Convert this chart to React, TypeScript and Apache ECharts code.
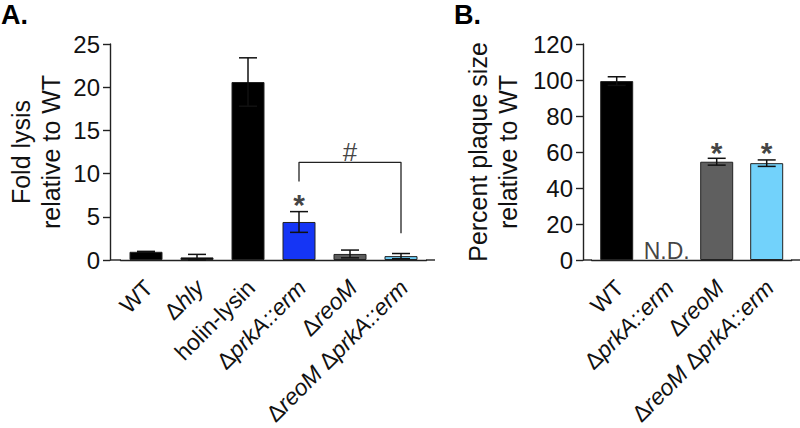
import React, { useEffect, useRef } from "react";
import * as echarts from "echarts";

// ---- Panel A data ----
const categoriesA = ["WT", "Δhly", "holin-lysin", "ΔprkA::erm", "ΔreoM", "ΔreoM ΔprkA::erm"];
const valuesA = [0.95, 0.3, 20.6, 4.4, 0.7, 0.45];
const errorsA = [0.05, 0.35, 2.8, 1.2, 0.45, 0.3];
const colorsA = ["#000000", "#000000", "#000000", "#1535f5", "#5c5c5c", "#6fcff8"];
const ticksA = { min: 0, max: 25, interval: 5 };
const bracketA = [
  [3, 9.1],
  [3, 11.3],
  [5, 11.3],
  [5, 3.1],
];
const starsA = [[3, 6.4]];
const hashA = [[4, 12.5]];

// ---- Panel B data ----
const categoriesB = ["WT", "ΔprkA::erm", "ΔreoM", "ΔreoM ΔprkA::erm"];
const valuesB: (number | null)[] = [99.4, null, 54.6, 53.8];
const errorsB: (number | null)[] = [2.4, null, 1.9, 1.8];
const colorsB = ["#000000", "#000000", "#5f5f5f", "#72d2fb"];
const ticksB = { min: 0, max: 120, interval: 20 };
const starsB = [
  [2, 60],
  [3, 60],
];
const ndB = [[1, 4.8]];

const FONT = "Liberation Sans, Arial, sans-serif";
const INK = "#111111";

function catFormatter(v: string) {
  return v.replace(/Δ(\S+)/g, "Δ{i|$1}");
}

function errorSeries(xi: number, yi: number, vals: (number | null)[], errs: (number | null)[]) {
  return {
    type: "custom",
    xAxisIndex: xi,
    yAxisIndex: yi,
    z: 5,
    data: vals
      .map((v, i) => (v == null ? null : [i, v, errs[i] ?? 0]))
      .filter((d) => d !== null),
    renderItem: (params: any, api: any) => {
      const x = api.value(0);
      const v = api.value(1);
      const e = api.value(2);
      const top = api.coord([x, v + e]);
      const bot = api.coord([x, Math.max(0, v - e)]);
      const half = 9;
      const style = { stroke: "#111", lineWidth: 1.5 };
      return {
        type: "group",
        children: [
          { type: "line", shape: { x1: top[0], y1: top[1], x2: bot[0], y2: bot[1] }, style },
          { type: "line", shape: { x1: top[0] - half, y1: top[1], x2: top[0] + half, y2: top[1] }, style },
          { type: "line", shape: { x1: bot[0] - half, y1: bot[1], x2: bot[0] + half, y2: bot[1] }, style },
        ],
      };
    },
  };
}

function textSeries(xi: number, yi: number, data: number[][], text: string, size: number, bold: boolean) {
  return {
    type: "scatter",
    xAxisIndex: xi,
    yAxisIndex: yi,
    symbolSize: 0,
    z: 6,
    data,
    label: {
      show: true,
      position: "inside",
      formatter: text,
      fontSize: size,
      fontWeight: bold ? "bold" : "normal",
      fontFamily: FONT,
      color: INK,
    },
    silent: true,
  };
}

const axisLineStyle = { color: "#222", width: 1.4 };

function xAxisFor(grid: number, cats: string[]) {
  return {
    type: "category",
    gridIndex: grid,
    data: cats,
    axisLine: { lineStyle: axisLineStyle },
    axisTick: { alignWithLabel: true, length: 8, lineStyle: axisLineStyle },
    axisLabel: {
      interval: 0,
      rotate: 45,
      margin: 21,
      padding: [8, 0, 0, 0],
      fontSize: 23,
      fontFamily: FONT,
      color: INK,
      formatter: catFormatter,
      rich: {
        i: { fontStyle: "italic", fontSize: 23, fontFamily: FONT, color: INK },
      },
    },
  };
}

function yAxisFor(grid: number, t: { min: number; max: number; interval: number }, name: string, gap: number, offset: number) {
  return {
    type: "value",
    gridIndex: grid,
    min: t.min,
    max: t.max,
    interval: t.interval,
    offset,
    name,
    nameLocation: "middle",
    nameGap: gap,
    nameTextStyle: { fontSize: 25, lineHeight: 30, fontFamily: FONT, color: INK },
    axisLine: { show: true, lineStyle: axisLineStyle },
    axisTick: { show: true, length: 7, lineStyle: axisLineStyle },
    axisLabel: { fontSize: 24, margin: 10, fontFamily: FONT, color: INK },
    splitLine: { show: false },
  };
}

export default function App() {
  const ref = useRef<HTMLDivElement>(null);
  useEffect(() => {
    if (!ref.current) return;
    const chart = echarts.init(ref.current, undefined, { renderer: "svg" });
    const gA = { left: 120.5, top: 44, width: 306, height: 216, outerBoundsMode: "none", containLabel: false };
    const gB = { left: 591.7, top: 44, width: 200, height: 216, outerBoundsMode: "none", containLabel: false };
    const lineStyle = { stroke: "#222", lineWidth: 1.4 };
    chart.setOption({
      animation: false,
      backgroundColor: "#ffffff",
      textStyle: { fontFamily: FONT },
      grid: [gA, gB],
      xAxis: [xAxisFor(0, categoriesA), xAxisFor(1, categoriesB)],
      yAxis: [
        yAxisFor(0, ticksA, "Fold lysis\nrelative to WT", 44, 10.5),
        yAxisFor(1, ticksB, "Percent plaque size\nrelative to WT", 60, 8.7),
      ],
      graphic: [
        { type: "text", left: 1, top: 1, style: { text: "A.", fontSize: 27, fontWeight: "bold", fontFamily: FONT, fill: "#000" } },
        { type: "text", left: 454, top: 1, style: { text: "B.", fontSize: 27, fontWeight: "bold", fontFamily: FONT, fill: "#000" } },
        { type: "line", shape: { x1: 110, y1: 260, x2: 121, y2: 260 }, style: lineStyle },
        { type: "line", shape: { x1: 426, y1: 260, x2: 435, y2: 260 }, style: lineStyle },
        { type: "line", shape: { x1: 583, y1: 260, x2: 592, y2: 260 }, style: lineStyle },
        { type: "line", shape: { x1: 791, y1: 260, x2: 800, y2: 260 }, style: lineStyle },
      ],
      series: [
        {
          type: "bar",
          xAxisIndex: 0,
          yAxisIndex: 0,
          barWidth: 33,
          data: valuesA.map((v, i) => ({ value: v, itemStyle: { color: colorsA[i] } })),
          itemStyle: { borderColor: "#222", borderWidth: 1 },
        },
        errorSeries(0, 0, valuesA, errorsA),
        {
          type: "line",
          xAxisIndex: 0,
          yAxisIndex: 0,
          data: bracketA,
          symbol: "none",
          lineStyle: { color: "#222", width: 1.3 },
          silent: true,
        },
        textSeries(0, 0, starsA, "*", 30, true),
        textSeries(0, 0, hashA, "#", 26, false),
        {
          type: "bar",
          xAxisIndex: 1,
          yAxisIndex: 1,
          barWidth: 33,
          data: valuesB.map((v, i) => ({ value: v, itemStyle: { color: colorsB[i] } })),
          itemStyle: { borderColor: "#222", borderWidth: 1 },
        },
        errorSeries(1, 1, valuesB, errorsB),
        textSeries(1, 1, starsB, "*", 30, true),
        textSeries(1, 1, ndB, "N.D.", 23, false),
      ],
    });
    return () => chart.dispose();
  }, []);
  return <div ref={ref} style={{ width: 800, height: 428, position: "absolute", left: 0, top: 0 }} />;
}
